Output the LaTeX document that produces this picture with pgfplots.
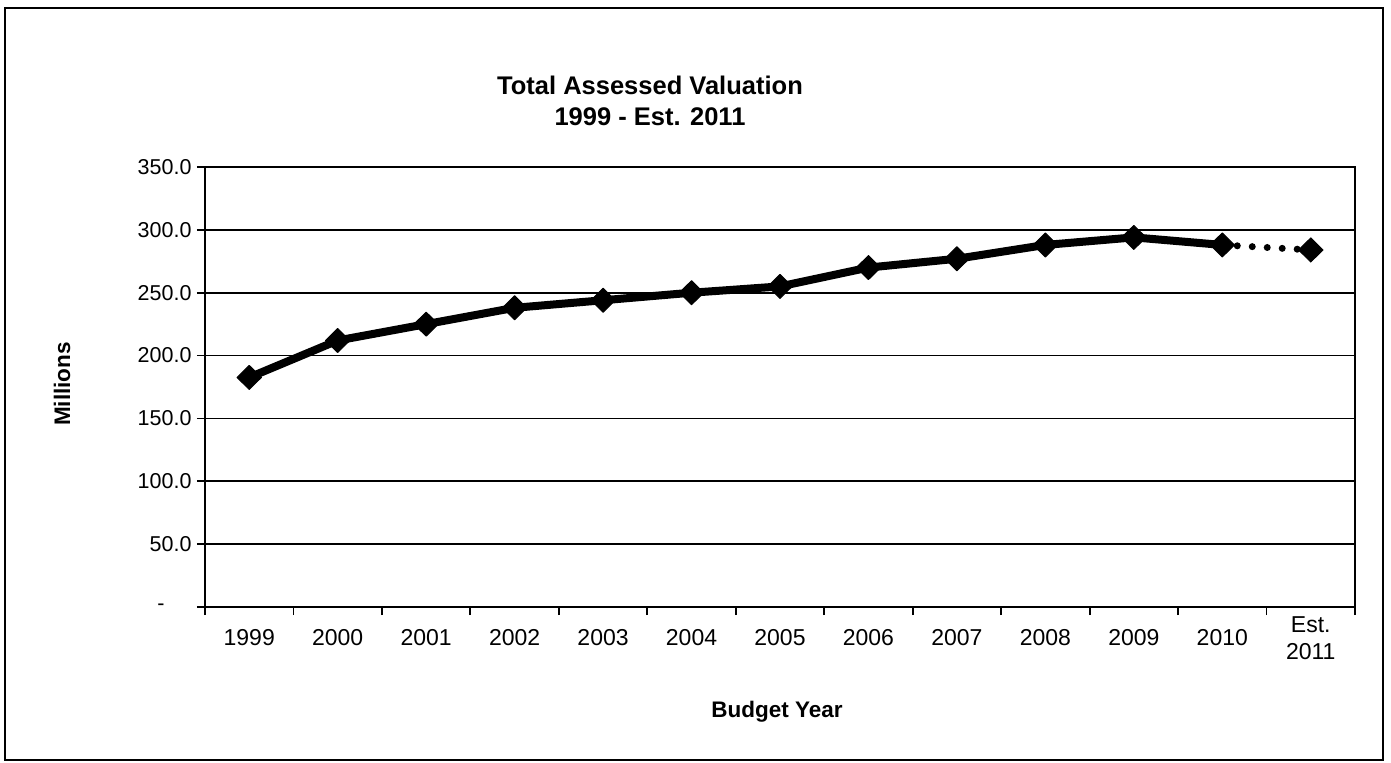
\documentclass[border=0pt]{standalone}
\usepackage{pgfplots}
\pgfplotsset{compat=1.18}
\usepackage{fontspec}
\setmainfont{Liberation Sans}
\begin{document}
\begin{tikzpicture}
\useasboundingbox (-205bp,607bp) rectangle (1186bp,-156bp);
\begin{axis}[
  at={(0,0)}, anchor=south west,
  scale only axis,
  width=1150bp, height=440bp,
  xmin=-0.5, xmax=12.5,
  ymin=0, ymax=350,
  axis line style={line width=2.2bp, black},
  xtick={0,...,12},
  xticklabels={1999,2000,2001,2002,2003,2004,2005,2006,2007,2008,2009,2010,{Est.\\2011}},
  major x tick style={draw=none},
  minor xtick={-0.5,0.5,...,12.5},
  minor x tick style={line width=1.8bp, black},
  minor tick length=8bp,
  ytick={0,50,...,350},
  yticklabels={{-\rule{27bp}{0pt}},50.0,100.0,150.0,200.0,250.0,300.0,350.0},
  major y tick style={line width=1.8bp, black},
  major tick length=8bp,
  tick align=outside,
  tick pos=left,
  ymajorgrids,
  grid style={line width=1.6bp, black},
  xticklabel style={font=\fontsize{23bp}{27bp}\selectfont, align=center, anchor=center, yshift=-23bp},
  yticklabel style={font=\fontsize{21.5bp}{25bp}\selectfont, anchor=east, xshift=-2bp},
  clip=false,
]
\addplot[black, line width=7bp, line cap=round, dash pattern=on 0pt off 15bp, forget plot]
  coordinates {(11,288) (12,284)};
\addplot[black, line width=8bp, line join=round, mark=diamond*,
  mark options={solid, fill=black, line width=1bp, xscale=1.35, mark size=12bp}]
  coordinates {(0,182.6) (1,212) (2,225) (3,238) (4,244) (5,250) (6,255)
               (7,270) (8,277) (9,288) (10,294) (11,288)};
\addplot[only marks, black, mark=diamond*,
  mark options={solid, fill=black, line width=1bp, xscale=1.35, mark size=12bp}]
  coordinates {(12,284)};
\end{axis}
\draw[line width=2.5bp, black] (-200bp,599bp) rectangle (1178bp,-153bp);
\node[font=\fontsize{25.5bp}{31bp}\selectfont\bfseries, align=center] at (445bp,506bp)
  {Total Assessed Valuation\\1999 - Est. 2011};
\node[font=\fontsize{22.5bp}{26bp}\selectfont\bfseries, rotate=90] at (-143bp,223bp) {Millions};
\node[font=\fontsize{22.5bp}{26bp}\selectfont\bfseries] at (572bp,-105bp) {Budget Year};
\end{tikzpicture}
\end{document}
